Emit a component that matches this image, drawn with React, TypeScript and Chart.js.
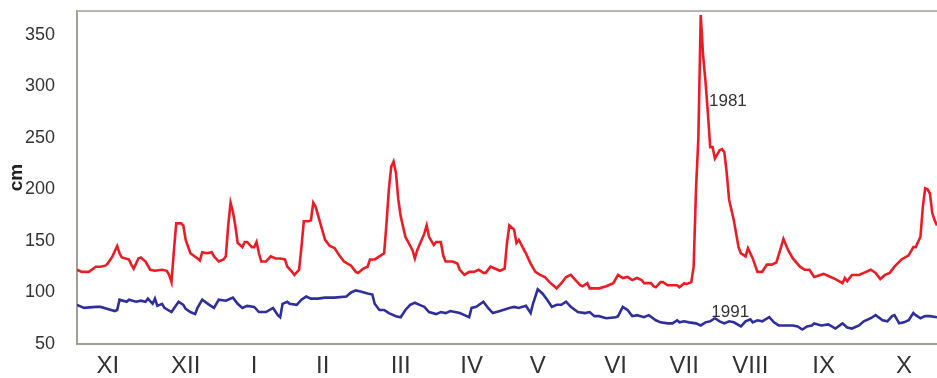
import React, { useEffect, useRef } from "react";
import { Chart, registerables } from "chart.js";

Chart.register(...registerables);

const FONT = '"Liberation Sans", Arial, Helvetica, sans-serif';
const TEXT_COLOR = "#333333";
const AXIS_COLOR = "#a39d98";

// Hydrological year: day 0 is 1 November, day 364 is 31 October.
const monthLabels = ["XI", "XII", "I", "II", "III", "IV", "V", "VI", "VII", "VIII", "IX", "X"];
const monthLabelDays = [13, 46, 75, 104, 137, 167, 195, 228, 257, 285, 316, 350];

// Water level, 1981 (cm)
const days1981 = [
  0, 2, 5, 8, 10, 12, 13, 15, 17, 18, 19, 22, 23, 24, 26, 27, 29, 31, 33, 36, 38, 39, 40, 41, 42, 44, 45, 46, 48,
  51, 52, 53, 55, 57, 58, 60, 62, 63, 64, 65, 66, 67, 68, 70, 71, 72, 74, 75, 76, 77, 78, 80, 82, 84, 86, 88, 89,
  91, 92, 94, 95, 96, 98, 99, 100, 101, 103, 105, 107, 109, 111, 113, 116, 118, 119, 121, 123, 124, 126, 128, 130,
  131, 132, 133, 134, 135, 136, 137, 139, 142, 143, 144, 147, 148, 149, 151, 152, 154, 155, 156, 159, 161, 162,
  164, 166, 168, 170, 172, 173, 175, 177, 179, 181, 182, 183, 185, 186, 187, 190, 192, 194, 196, 198, 200, 203,
  205, 207, 209, 211, 213, 214, 216, 217, 221, 224, 227, 229, 231, 233, 235, 237, 239, 240, 243, 244, 245, 247,
  248, 250, 252, 254, 255, 257, 258, 260, 261, 262, 263, 264, 265, 266, 267, 268, 269, 270, 271, 272, 273, 274,
  275, 276, 277, 278, 280, 281, 283, 284, 286, 288, 290, 292, 294, 296, 298, 299, 301, 303, 306, 308, 310, 312,
  316, 319, 321, 324, 325, 326, 328, 331, 333, 336, 338, 340, 342, 344, 346, 349, 352, 354, 355, 357, 358, 359,
  360, 361, 362, 363, 364,
];
const levels1981 = [
  122, 120, 120, 125, 125, 126, 128, 135, 145, 138, 134, 132, 127, 123, 133, 134, 130, 122, 121, 122, 121, 117, 110, 140, 167, 167, 165, 151, 138,
  133, 131, 139, 138, 139, 135, 130, 132, 135, 165, 187, 178, 165, 148, 144, 149, 149, 144, 144, 149, 138, 130, 130, 135, 133, 133, 132, 125,
  120, 117, 122, 144, 169, 169, 170, 187, 183, 167, 151, 145, 143, 136, 130, 126, 120, 119, 123, 125, 132, 132, 135, 138,
  167, 200, 222, 227, 216, 190, 174, 154, 141, 133, 141, 157, 165, 154, 146, 149, 149, 136, 130, 130, 128, 122,
  117, 120, 120, 122, 119, 119, 125, 123, 121, 123, 148, 165, 161, 148, 151, 138, 128, 120, 117, 115, 110, 104,
  109, 115, 117, 112, 107, 106, 109, 104, 104, 106, 109, 117, 114, 115, 112, 114, 112, 109, 109, 106, 105, 110,
  110, 107, 107, 107, 105, 109, 108, 110, 125, 200, 250, 369, 330, 305, 275, 241, 241, 230, 234, 238, 239, 236,
  216, 190, 180, 170, 144, 138, 135, 143, 133, 120, 120, 127, 127, 129, 144, 152, 141, 133, 125, 122, 122, 115,
  118, 115, 113, 109, 114, 111, 117, 117, 119, 122, 119, 113, 117, 119, 125, 132, 136, 144, 144, 154, 183, 201,
  200, 196, 177, 170, 165,
];

// Water level, 1991 (cm)
const days1991 = [
  0, 3, 8, 10, 13, 16, 17, 18, 21, 22, 25, 27, 29, 30, 32, 33, 34, 36, 37, 40, 43, 45, 46, 48, 50, 51, 53, 56, 58,
  60, 63, 66, 68, 70, 72, 75, 77, 80, 83, 85, 86, 87, 89, 90, 93, 95, 97, 99, 102, 105, 109, 114, 116, 118, 120,
  123, 125, 126, 128, 130, 132, 135, 137, 139, 141, 143, 145, 147, 149, 152, 154, 156, 158, 160, 162, 164, 166,
  167, 169, 172, 174, 176, 179, 183, 185, 187, 190, 192, 193, 195, 197, 199, 201, 203, 205, 207, 209, 212, 215,
  217, 219, 221, 224, 228, 229, 231, 233, 235, 237, 240, 242, 245, 247, 250, 252, 254, 255, 257, 259, 262, 264,
  266, 268, 270, 272, 274, 276, 278, 281, 283, 285, 286, 288, 290, 293, 295, 297, 300, 303, 305, 307, 309, 311,
  312, 315, 318, 321, 324, 326, 328, 331, 333, 336, 338, 341, 343, 345, 346, 348, 350, 352, 354, 355, 357, 359,
  361, 364,
];
const levels1991 = [
  88, 85, 86, 86, 84, 82, 83, 93, 91, 93, 91, 92, 91, 94, 89, 94, 87, 89, 85, 81, 91, 88, 84, 81, 79, 85, 93, 88, 85,
  93, 92, 95, 89, 85, 87, 86, 81, 81, 85, 78, 76, 89, 91, 89, 88, 93, 96, 94, 94, 95, 95, 96, 100, 102, 101,
  99, 98, 89, 83, 83, 80, 77, 76, 83, 88, 90, 88, 86, 81, 79, 81, 80, 82, 81, 80, 78, 76,
  85, 86, 91, 85, 80, 82, 85, 86, 85, 87, 80, 89, 103, 99, 93, 86, 88, 88, 91, 86, 81, 80,
  81, 77, 77, 75, 76, 77, 86, 83, 77, 78, 76, 78, 73, 71, 70, 70, 73, 71, 72, 71, 70, 68,
  71, 72, 75, 72, 70, 72, 71, 67, 72, 74, 71, 73, 72, 76, 71, 68, 68, 68, 67, 64, 67, 68,
  70, 68, 69, 65, 70, 66, 65, 68, 72, 75, 78, 73, 72, 77, 78, 70, 71, 73, 80, 78, 75, 77,
  77, 76,
];

// Series names written beside the curves (position in data units)
const yearNotes = [
  { text: "1981", day: 267.5, level: 285 },
  { text: "1991", day: 268.5, level: 81 },
];

const toPoints = (days: number[], levels: number[]) => days.map((d, i) => ({ x: d, y: levels[i] }));

const decorPlugin = {
  id: "frameAndYearNotes",
  beforeDatasetsDraw(chart: any) {
    const { ctx, chartArea } = chart;
    ctx.save();
    ctx.strokeStyle = "#bab5b1";
    ctx.lineWidth = 2;
    ctx.beginPath();
    ctx.moveTo(chartArea.left, chartArea.top);
    ctx.lineTo(chartArea.right, chartArea.top);
    ctx.stroke();
    ctx.restore();
  },
  afterDatasetsDraw(chart: any) {
    const { ctx, scales } = chart;
    ctx.save();
    ctx.font = `17px ${FONT}`;
    ctx.fillStyle = TEXT_COLOR;
    ctx.textAlign = "left";
    ctx.textBaseline = "middle";
    for (const n of yearNotes) {
      ctx.fillText(n.text, scales.x.getPixelForValue(n.day), scales.y.getPixelForValue(n.level));
    }
    ctx.restore();
  },
};

export default function App() {
  const canvasRef = useRef<HTMLCanvasElement | null>(null);

  useEffect(() => {
    const canvas = canvasRef.current;
    if (!canvas) return;
    const chart = new Chart(canvas, {
      type: "line",
      data: {
        datasets: [
          {
            label: "1981",
            data: toPoints(days1981, levels1981),
            borderColor: "#ec1c24",
            borderWidth: 2.6,
            pointRadius: 0,
            tension: 0,
            fill: false,
          },
          {
            label: "1991",
            data: toPoints(days1991, levels1991),
            borderColor: "#2f2f9c",
            borderWidth: 2.6,
            pointRadius: 0,
            tension: 0,
            fill: false,
          },
        ],
      },
      options: {
        animation: false,
        responsive: false,
        devicePixelRatio: 1,
        layout: { padding: { top: 11, right: 0, bottom: 0, left: 0 } },
        plugins: { legend: { display: false }, tooltip: { enabled: false } },
        scales: {
          x: {
            type: "linear",
            min: 0,
            max: 364,
            grid: { display: false },
            border: { display: true, color: AXIS_COLOR, width: 2 },
            afterBuildTicks: (scale: any) => {
              scale.ticks = monthLabelDays.map((v) => ({ value: v }));
            },
            afterFit: (scale: any) => {
              scale.height = 34;
              scale.paddingLeft = 0;
              scale.paddingRight = 0;
            },
            ticks: {
              autoSkip: false,
              maxRotation: 0,
              padding: 0,
              color: TEXT_COLOR,
              font: { family: FONT, size: 24 },
              callback: (_v: any, i: number) => monthLabels[i],
            },
          },
          y: {
            min: 50,
            max: 373,
            grid: { display: false },
            border: { display: true, color: AXIS_COLOR, width: 2 },
            afterFit: (scale: any) => {
              scale.width = 77;
              scale.paddingTop = 0;
              scale.paddingBottom = 0;
            },
            ticks: {
              stepSize: 50,
              includeBounds: false,
              padding: 14,
              color: TEXT_COLOR,
              font: { family: FONT, size: 18 },
            },
            title: {
              display: true,
              text: "cm",
              color: "#222222",
              padding: { top: 5, bottom: 0 },
              font: { family: FONT, size: 19, weight: "bold" },
            },
          },
        },
      },
      plugins: [decorPlugin],
    });
    return () => chart.destroy();
  }, []);

  return (
    <div style={{ position: "fixed", left: 0, top: 0, width: 937, height: 378, background: "#ffffff" }}>
      <canvas ref={canvasRef} width={937} height={378} style={{ display: "block" }} />
    </div>
  );
}
